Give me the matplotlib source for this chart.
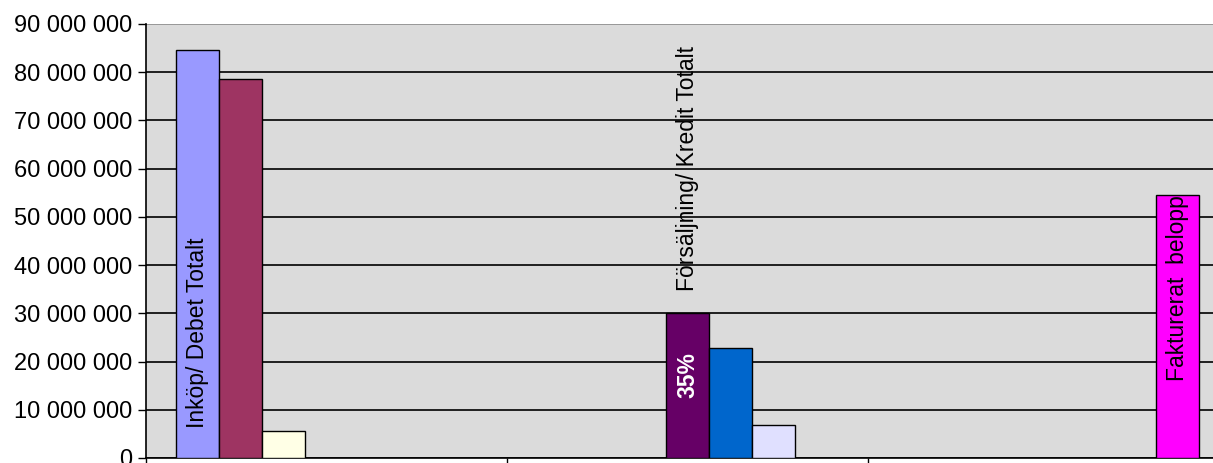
import matplotlib.pyplot as plt
from matplotlib.ticker import FuncFormatter

plt.rcParams['font.family'] = ['Liberation Sans', 'DejaVu Sans']
plt.rcParams['font.size'] = 17

# one bar per series, each series only has a value in one category
series_cat = [0, 0, 0, 1, 1, 1, 2]
series_val = [84.6e6, 78.6e6, 5.5e6, 30.0e6, 22.8e6, 6.85e6, 54.6e6]
series_col = ['#9999FF', '#9E3462', '#FFFFE6', '#660066', '#0066CC', '#E0E0FF', '#FF00FF']
y_ticks = [0, 10e6, 20e6, 30e6, 40e6, 50e6, 60e6, 70e6, 80e6, 90e6]

n = len(series_val)
w = 1 / (n + 1.4)  # excel style gap width 140%

fig = plt.figure(figsize=(12.13, 4.63), dpi=100)
ax = fig.add_axes([146 / 1213, 5 / 463, 1083 / 1213, 434 / 463])
ax.set_facecolor('#DBDBDB')

xs = [c - 0.5 + 0.7 * w + (k + 0.5) * w for k, c in enumerate(series_cat)]
ax.bar(xs, series_val, width=w, color=series_col, edgecolor='black', linewidth=1.0, zorder=3)

ax.set_xlim(-0.5, 2.5)
ax.set_ylim(0, 90e6)
ax.set_yticks(y_ticks)
ax.yaxis.set_major_formatter(FuncFormatter(lambda v, p: f'{int(v):,}'.replace(',', ' ')))
ax.yaxis.grid(True, color='black', linewidth=1.2, zorder=1)
ax.set_axisbelow(True)
ax.get_ygridlines()[-1].set_color('#8C8C8C')

ax.set_xticks([-0.5, 0.5, 1.5])
ax.set_xticklabels([])
ax.tick_params(axis='x', length=6, width=1, direction='out')
ax.tick_params(axis='y', length=6, width=1, direction='out', pad=4)

for s in ['top', 'right']:
    ax.spines[s].set_visible(False)
ax.spines['left'].set_linewidth(1.2)
ax.spines['bottom'].set_linewidth(1.2)

ax.text(xs[0], 6.2e6, 'Inköp/ Debet Totalt', rotation=90, ha='center', va='bottom',
        fontsize=16.5, zorder=4)
ax.text(xs[3], series_val[3] + 4.6e6, 'Försäljning/ Kredit Totalt', rotation=90,
        ha='center', va='bottom', fontsize=16.5, zorder=4)
ax.text(xs[3], 17.2e6, '35%', rotation=90, ha='center', va='center', fontsize=16.5,
        fontweight='bold', color='white', zorder=4)
ax.text(xs[6], series_val[6], 'Fakturerat  belopp', rotation=90, ha='center', va='top',
        fontsize=16.5, zorder=4)

plt.savefig('out.png', dpi=100)
